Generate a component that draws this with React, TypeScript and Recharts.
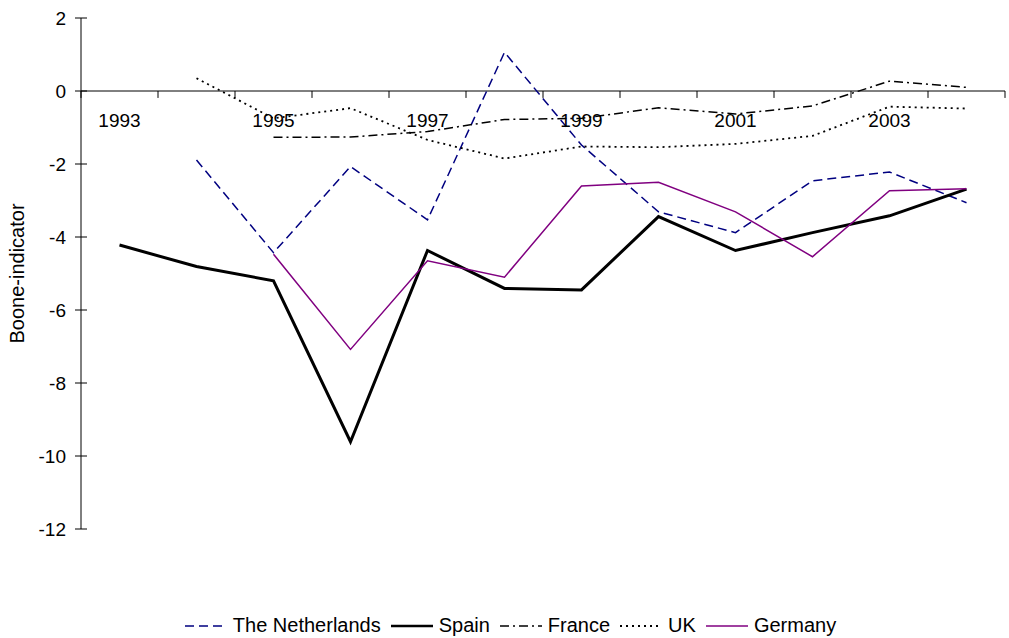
import { LineChart, Line, XAxis, YAxis, ReferenceLine, ReferenceDot, Legend } from "recharts";

const years = [1993, 1994, 1995, 1996, 1997, 1998, 1999, 2000, 2001, 2002, 2003, 2004];
const labelYears = [1993, 1995, 1997, 1999, 2001, 2003];
const yTicks = [-12, -10, -8, -6, -4, -2, 0, 2];

const netherlands = [null, -1.89, -4.43, -2.07, -3.53, 1.06, -1.48, -3.31, -3.88, -2.46, -2.22, -3.06];
const spain = [-4.22, -4.81, -5.2, -9.61, -4.37, -5.41, -5.45, -3.44, -4.37, -3.88, -3.42, -2.69];
const france = [null, null, -1.27, -1.26, -1.11, -0.78, -0.75, -0.46, -0.63, -0.41, 0.27, 0.1];
const uk = [null, 0.35, -0.75, -0.47, -1.34, -1.85, -1.52, -1.54, -1.45, -1.23, -0.43, -0.48];
const germany = [null, null, -4.47, -7.08, -4.65, -5.1, -2.6, -2.5, -3.31, -4.54, -2.73, -2.68];

const data = years.map((year, i) => ({
  year,
  netherlands: netherlands[i],
  spain: spain[i],
  france: france[i],
  uk: uk[i],
  germany: germany[i],
}));

// category boundaries for the tick marks on the zero line
const boundaries = [...years.map((y) => y - 0.5), years[years.length - 1] + 0.5];

const series = [
  { key: "netherlands", name: "The Netherlands", color: "#000080", width: 1.5, dash: "9 5" },
  { key: "spain", name: "Spain", color: "#000000", width: 3, dash: undefined },
  { key: "france", name: "France", color: "#000000", width: 1.5, dash: "9 4 2 4" },
  { key: "uk", name: "UK", color: "#000000", width: 1.8, dash: "2 4" },
  { key: "germany", name: "Germany", color: "#800080", width: 1.5, dash: undefined },
];

const font = "'Liberation Sans', Arial, sans-serif";

const YTick = (props: any) => {
  const { x, y, payload } = props;
  return (
    <g>
      <line x1={x - 6} x2={x + 6} y1={y} y2={y} stroke="#000" />
      <text x={x - 15} y={y} dy="0.35em" textAnchor="end" fontSize={19} fill="#000" fontFamily={font}>
        {payload.value}
      </text>
    </g>
  );
};

const renderLegend = () => (
  <div
    style={{
      display: "flex",
      justifyContent: "center",
      alignItems: "center",
      paddingLeft: 22,
      fontFamily: font,
      fontSize: 20,
      color: "#000",
      height: 24,
    }}
  >
    {series.map((s) => (
      <div key={s.key} style={{ display: "flex", alignItems: "center", marginRight: 10 }}>
        <svg width={42} height={10} style={{ marginRight: 6 }}>
          <line
            x1={0}
            x2={42}
            y1={6}
            y2={6}
            stroke={s.color}
            strokeWidth={s.key === "spain" ? 2.5 : s.width}
            strokeDasharray={s.dash}
          />
        </svg>
        <span>{s.name}</span>
      </div>
    ))}
  </div>
);

export default function App() {
  return (
    <div style={{ position: "absolute", left: 0, top: 0, background: "#fff" }}>
      <LineChart
        width={1009}
        height={638}
        data={data}
        margin={{ top: 18, right: 4, bottom: 109, left: 0 }}
        style={{ fontFamily: font }}
      >
        <XAxis dataKey="year" type="number" domain={[1992.5, 2004.5]} hide />
        <YAxis
          type="number"
          domain={[-12, 2]}
          ticks={yTicks}
          interval={0}
          width={81}
          tickSize={0}
          tickMargin={0}
          tickLine={false}
          axisLine={{ stroke: "#000" }}
          tick={<YTick />}
          label={{
            value: "Boone-indicator",
            angle: -90,
            position: "insideLeft",
            offset: 17,
            fill: "#000",
            fontSize: 20,
            style: { textAnchor: "middle" },
          }}
        />
        <ReferenceLine y={0} stroke="#000" strokeWidth={1} />
        {boundaries.map((b) => (
          <ReferenceLine
            key={`t${b}`}
            segment={[
              { x: b, y: 0 },
              { x: b, y: -0.19 },
            ]}
            stroke="#000"
          />
        ))}
        {labelYears.map((yr) => (
          <ReferenceDot
            key={`l${yr}`}
            x={yr}
            y={0}
            r={0}
            fill="none"
            stroke="none"
            label={{ value: String(yr), position: "bottom", offset: 23, fill: "#000", fontSize: 19 }}
          />
        ))}
        {series.map((s) => (
          <Line
            key={s.key}
            dataKey={s.key}
            name={s.name}
            type="linear"
            stroke={s.color}
            strokeWidth={s.width}
            strokeDasharray={s.dash}
            dot={false}
            activeDot={false}
            isAnimationActive={false}
          />
        ))}
        <Legend
          layout="horizontal"
          verticalAlign="middle"
          align="center"
          wrapperStyle={{ top: 613, left: 0, width: 1009, height: 24 }}
          content={renderLegend}
        />
      </LineChart>
    </div>
  );
}
